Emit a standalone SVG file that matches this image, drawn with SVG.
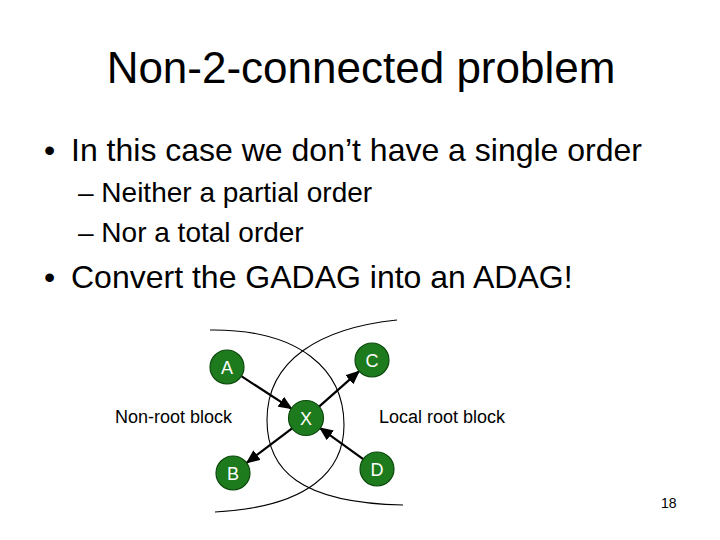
<svg xmlns="http://www.w3.org/2000/svg" width="720" height="540" viewBox="0 0 720 540">
<style>
.t{font-family:"Liberation Sans",Arial,sans-serif;fill:#000}
.nd circle{fill:#1d7a1d;stroke:#0e4a0e;stroke-width:1.2}
.nd text{font-family:"Liberation Sans",Arial,sans-serif;font-size:18px;fill:#fff;text-anchor:middle}
.cv{fill:none;stroke:#000;stroke-width:1.1}
.ar{stroke:#000;stroke-width:2.2;marker-end:url(#ah)}
</style>
<defs>
<marker id="ah" markerUnits="userSpaceOnUse" markerWidth="14" markerHeight="12" viewBox="0 0 14 12" refX="13" refY="6" orient="auto">
<path d="M0,0 L14,6 L0,12 z" fill="#000"/>
</marker>
</defs>
<rect width="720" height="540" fill="#fff"/>
<text class="t" x="361" y="83" font-size="44" text-anchor="middle">Non-2-connected problem</text>
<text class="t" x="44" y="161" font-size="32">•</text>
<text class="t" x="71" y="161" font-size="32">In this case we don’t have a single order</text>
<text class="t" x="78" y="202" font-size="28">– Neither a partial order</text>
<text class="t" x="78" y="242" font-size="28">– Nor a total order</text>
<text class="t" x="44" y="288" font-size="32">•</text>
<text class="t" x="71" y="288" font-size="32">Convert the GADAG into an ADAG!</text>
<text class="t" x="115" y="423" font-size="18">Non-root block</text>
<text class="t" x="379" y="423" font-size="18">Local root block</text>
<text class="t" x="661" y="508" font-size="14">18</text>
<g id="regions">
<path class="cv" d="M210,330 C300,329 344,370 344,425 C344,470 310,507 215,512"/>
<path class="cv" d="M397,320 C320,328 267,360 267,420 C267,470 300,503 403,505"/>
</g>
<g id="connectors">
<line class="ar" x1="241.3" y1="376.2" x2="291.7" y2="408.8"/>
<line class="ar" x1="318.8" y1="406.8" x2="359.2" y2="371.2"/>
<line class="ar" x1="292.4" y1="428.2" x2="246.6" y2="462.8"/>
<line class="ar" x1="363.2" y1="459.1" x2="319.8" y2="427.9"/>
</g>
<g id="A" class="nd"><circle cx="227" cy="367" r="17"/><text x="227" y="373.5">A</text></g>
<g id="C" class="nd"><circle cx="372" cy="360" r="17"/><text x="372" y="366.5">C</text></g>
<g id="X" class="nd"><circle cx="306" cy="418" r="17.5"/><text x="306" y="424.5">X</text></g>
<g id="B" class="nd"><circle cx="233" cy="473" r="17"/><text x="233" y="479.5">B</text></g>
<g id="D" class="nd"><circle cx="377" cy="469" r="17"/><text x="377" y="475.5">D</text></g>
</svg>
